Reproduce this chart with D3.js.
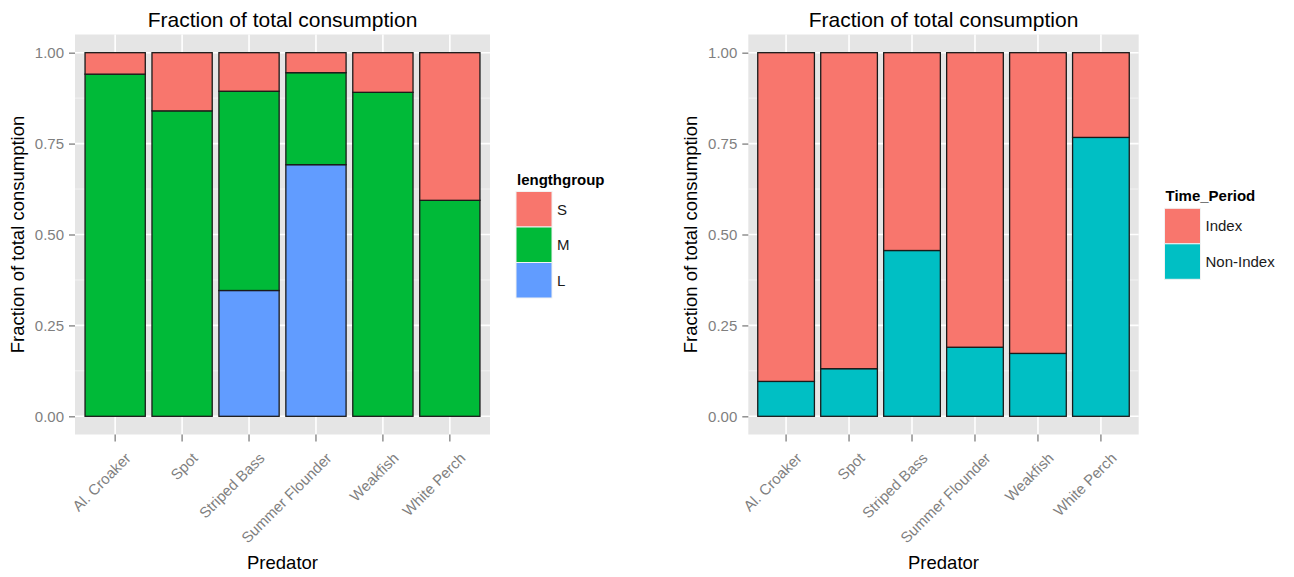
<!DOCTYPE html>
<html>
<head>
<meta charset="utf-8">
<script src="https://cdn.jsdelivr.net/npm/d3@7"></script>
<style>
  html, body { margin: 0; padding: 0; background: #ffffff; }
  svg { display: block; font-family: "Liberation Sans", Arial, sans-serif; }
</style>
</head>
<body>
<svg id="chart" width="1294" height="577"></svg>
<script>
// Predators shared by both panels
const predators = ["Al. Croaker", "Spot", "Striped Bass", "Summer Flounder", "Weakfish", "White Perch"];

// Left panel: fraction of consumption by prey length group
const lengthGroups = ["S", "M", "L"];
const lengthL = [0.000, 0.000, 0.346, 0.692, 0.000, 0.000];
const lengthM = [0.941, 0.840, 0.548, 0.253, 0.891, 0.594];
const lengthS = [0.059, 0.160, 0.106, 0.055, 0.109, 0.406];

// Right panel: fraction of consumption by time period
const timePeriods = ["Index", "Non-Index"];
const periodNonIndex = [0.096, 0.131, 0.456, 0.190, 0.173, 0.767];
const periodIndex = [0.904, 0.869, 0.544, 0.810, 0.827, 0.233];

const yTicks = [0, 0.25, 0.5, 0.75, 1];
const yMinor = [0.125, 0.375, 0.625, 0.875];

const svg = d3.select("#chart");

function drawPanel(opt) {
  const { left, right, top, bottom, rows, keys, colors, legendTitle, legend } = opt;
  const g = svg.append("g");

  const x = d3.scaleBand().domain(predators).range([left, right])
    .paddingInner(0.1).paddingOuter(0.15);
  // 0..1 plus ggplot's 5% expansion on each side
  const y = d3.scaleLinear().domain([-0.05, 1.05]).range([bottom, top]);

  // panel background
  g.append("rect").attr("x", left).attr("y", top)
    .attr("width", right - left).attr("height", bottom - top)
    .attr("fill", "#e5e5e5");

  // minor grid
  g.selectAll(".minor").data(yMinor).join("line")
    .attr("x1", left).attr("x2", right)
    .attr("y1", d => y(d)).attr("y2", d => y(d))
    .attr("stroke", "#f2f2f2").attr("stroke-width", 1);

  // major grid
  g.selectAll(".majorY").data(yTicks).join("line")
    .attr("x1", left).attr("x2", right)
    .attr("y1", d => y(d)).attr("y2", d => y(d))
    .attr("stroke", "#ffffff").attr("stroke-width", 1.6);
  g.selectAll(".majorX").data(predators).join("line")
    .attr("x1", d => x(d) + x.bandwidth() / 2).attr("x2", d => x(d) + x.bandwidth() / 2)
    .attr("y1", top).attr("y2", bottom)
    .attr("stroke", "#ffffff").attr("stroke-width", 1.6);

  // stacked bars
  const stacked = d3.stack().keys(keys)(rows);
  stacked.forEach(layer => {
    g.append("g").selectAll("rect").data(layer).join("rect")
      .attr("x", d => x(d.data.predator))
      .attr("width", x.bandwidth())
      .attr("y", d => y(d[1]))
      .attr("height", d => y(d[0]) - y(d[1]))
      .attr("fill", colors[layer.key])
      .attr("stroke", "#1a1a1a").attr("stroke-width", 1.3);
  });

  // y axis
  const yAxis = g.append("g").attr("transform", `translate(${left},0)`)
    .call(d3.axisLeft(y).tickValues(yTicks).tickFormat(d3.format(".2f")).tickSize(6).tickPadding(5));
  yAxis.select(".domain").remove();
  yAxis.selectAll(".tick line").attr("stroke", "#7f7f7f").attr("stroke-width", 1.3);
  yAxis.selectAll(".tick text").attr("fill", "#7f7f7f").attr("font-size", 15)
    .attr("font-family", "Liberation Sans, Arial, sans-serif");

  // x axis
  const xAxis = g.append("g").attr("transform", `translate(0,${bottom})`)
    .call(d3.axisBottom(x).tickSize(7).tickFormat(""));
  xAxis.select(".domain").remove();
  xAxis.selectAll(".tick line").attr("stroke", "#7f7f7f").attr("stroke-width", 1.3);
  g.selectAll(".xlab").data(predators).join("text")
    .attr("transform", d => `translate(${x(d) + x.bandwidth() / 2 + 9},${bottom + 17}) rotate(-45)`)
    .attr("text-anchor", "end").attr("dy", "0.72em")
    .attr("fill", "#7f7f7f").attr("font-size", 15)
    .text(d => d);

  // titles
  const cx = (left + right) / 2;
  g.append("text").attr("x", cx).attr("y", 27).attr("text-anchor", "middle")
    .attr("font-size", 21).attr("fill", "#000").text("Fraction of total consumption");
  g.append("text").attr("x", cx).attr("y", 569).attr("text-anchor", "middle")
    .attr("font-size", 18.5).attr("fill", "#000").text("Predator");
  g.append("text")
    .attr("transform", `translate(${left - 51},${(top + bottom) / 2}) rotate(-90)`)
    .attr("text-anchor", "middle").attr("font-size", 18.5).attr("fill", "#000")
    .text("Fraction of total consumption");

  // legend
  const lg = g.append("g");
  lg.append("text").attr("x", legend.x + 1).attr("y", legend.titleY)
    .attr("font-size", 15).attr("font-weight", "bold").attr("fill", "#000")
    .text(legendTitle);
  legend.items.forEach((k, i) => {
    const ky = legend.keyY + i * legend.keyH;
    lg.append("rect").attr("x", legend.x).attr("y", ky)
      .attr("width", legend.keyW).attr("height", legend.keyH)
      .attr("fill", colors[k]).attr("stroke", "#f2f2f2").attr("stroke-width", 1);
    lg.append("text").attr("x", legend.x + legend.keyW + 5).attr("y", ky + legend.keyH / 2)
      .attr("dy", "0.36em").attr("font-size", 15).attr("fill", "#1a1a1a").text(k);
  });
}

const lengthRows = predators.map((p, i) => ({ predator: p, L: lengthL[i], M: lengthM[i], S: lengthS[i] }));
const periodRows = predators.map((p, i) => ({ predator: p, "Non-Index": periodNonIndex[i], Index: periodIndex[i] }));

drawPanel({
  left: 75, right: 490, top: 34.5, bottom: 434.5,
  rows: lengthRows, keys: ["L", "M", "S"],
  colors: { S: "#F8766D", M: "#00BA38", L: "#619CFF" },
  legendTitle: "lengthgroup",
  legend: { x: 516, titleY: 185, keyY: 191.5, keyW: 36, keyH: 35.5, items: lengthGroups }
});

drawPanel({
  left: 748.3, right: 1138.7, top: 34.5, bottom: 434.5,
  rows: periodRows, keys: ["Non-Index", "Index"],
  colors: { "Index": "#F8766D", "Non-Index": "#00BFC4" },
  legendTitle: "Time_Period",
  legend: { x: 1164.5, titleY: 201, keyY: 208.3, keyW: 36, keyH: 35.5, items: timePeriods }
});
</script>
</body>
</html>
